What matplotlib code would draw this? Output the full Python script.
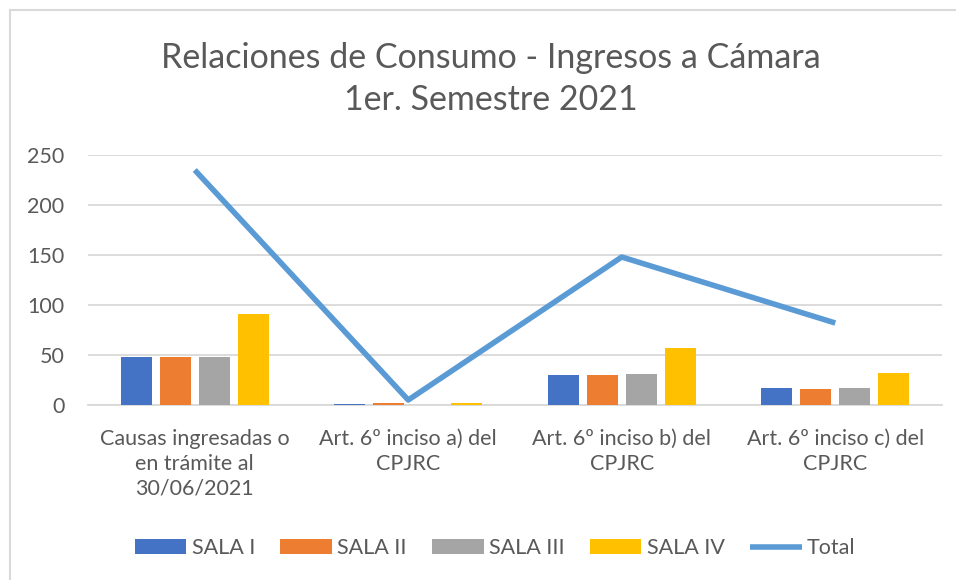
import matplotlib
matplotlib.use("Agg")
import matplotlib.pyplot as plt
import numpy as np
from matplotlib.lines import Line2D

plt.rcParams['font.family'] = ['Lato', 'DejaVu Sans']

categories = ["Causas ingresadas o\nen trámite al\n30/06/2021",
              "Art. 6º inciso a) del\nCPJRC",
              "Art. 6º inciso b) del\nCPJRC",
              "Art. 6º inciso c) del\nCPJRC"]
series_names = ["SALA I", "SALA II", "SALA III", "SALA IV"]
sala_i = [48, 1, 30, 17]
sala_ii = [48, 2, 30, 16]
sala_iii = [48, 0, 31, 17]
sala_iv = [91, 2, 57, 32]
total = [235, 5, 148, 82]
yticks = [0, 50, 100, 150, 200, 250]

colors = ["#4472C4", "#ED7D31", "#A5A5A5", "#FFC000"]
line_color = "#5B9BD5"
text_color = "#595959"

fig = plt.figure(figsize=(9.56, 5.8), dpi=100)
ax = fig.add_axes([88/956, 1-405/580, (942-88)/956, 250/580])

x = np.arange(len(categories))
width = 0.145
pitch = 0.183
vals = [sala_i, sala_ii, sala_iii, sala_iv]
for i, (v, c, n) in enumerate(zip(vals, colors, series_names)):
    ax.bar(x + (i - 1.5) * pitch, v, width, color=c, label=n, zorder=3)
ax.plot(x, total, color=line_color, lw=4, label="Total", zorder=4,
        solid_capstyle='butt')

ax.set_xlim(-0.5, len(categories) - 0.5)
ax.set_ylim(0, 250)
ax.set_yticks(yticks)
ax.set_xticks(x)
ax.set_xticklabels(categories, fontsize=15.5, color=text_color, linespacing=1.32)
ax.tick_params(axis='y', labelsize=15.5, labelcolor=text_color, length=0, pad=17)
ax.tick_params(axis='x', length=0, pad=17)
ax.grid(axis='y', color="#D9D9D9", lw=1.3, zorder=0)
for s in ['top', 'right', 'left']:
    ax.spines[s].set_visible(False)
ax.spines['bottom'].set_color("#D9D9D9")
ax.spines['bottom'].set_linewidth(1.3)

fig.text(491/956, 1-58/580, "Relaciones de Consumo - Ingresos a Cámara",
         ha='center', va='center', fontsize=24.5, color=text_color)
fig.text(491/956, 1-100/580, "1er. Semestre 2021",
         ha='center', va='center', fontsize=24.5, color=text_color)

handles, labels = ax.get_legend_handles_labels()
order = [1, 2, 3, 4, 0]
leg = fig.legend([handles[i] for i in order], [labels[i] for i in order],
                 loc='center', bbox_to_anchor=(495/956, 1-548/580), ncol=5,
                 frameon=False, fontsize=15.5, handlelength=2.4, handleheight=0.65,
                 columnspacing=1.17, handletextpad=0.25, labelcolor=text_color)

fig.add_artist(Line2D([10/956, 10/956], [0, 1-10/580], color="#D9D9D9", lw=1.5,
                      transform=fig.transFigure))
fig.add_artist(Line2D([10/956, 1], [1-10/580, 1-10/580], color="#D9D9D9", lw=1.5,
                      transform=fig.transFigure))

fig.savefig("out.png", dpi=100, facecolor='white')
